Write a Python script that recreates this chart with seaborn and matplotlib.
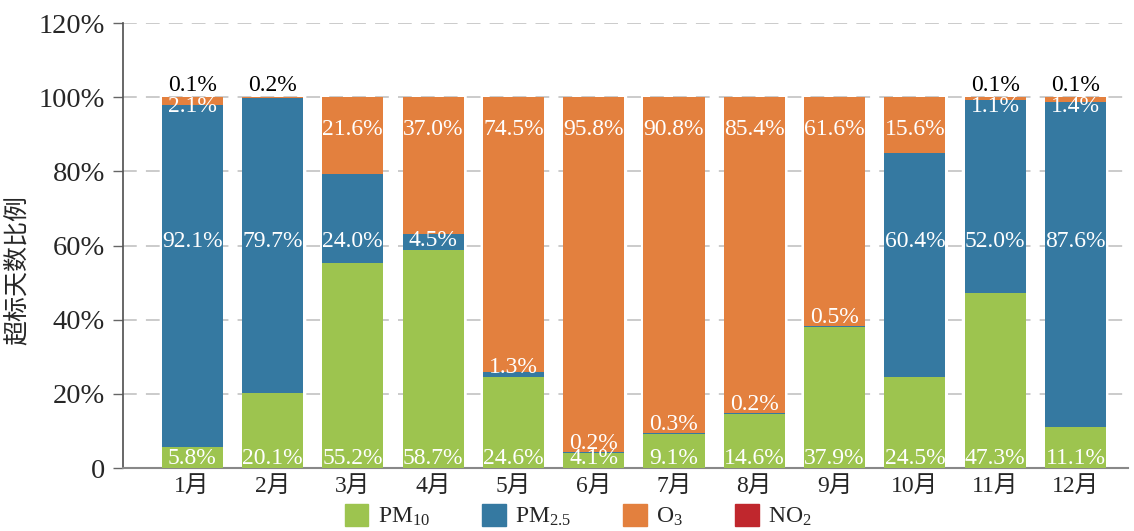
import numpy as np
import pandas as pd
import seaborn as sns
import matplotlib.pyplot as plt
from matplotlib.patches import Patch

sns.set_theme(style="white")
plt.rcParams["font.family"] = ["Liberation Serif", "Noto Sans CJK SC"]
plt.rcParams["mathtext.fontset"] = "custom"
plt.rcParams["mathtext.rm"] = "Liberation Serif"

months = ["1月", "2月", "3月", "4月", "5月", "6月", "7月", "8月", "9月", "10月", "11月", "12月"]
pm10 = [5.8, 20.1, 55.2, 58.7, 24.6, 4.1, 9.1, 14.6, 37.9, 24.5, 47.3, 11.1]
pm25 = [92.1, 79.7, 24.0, 4.5, 1.3, 0.2, 0.3, 0.2, 0.5, 60.4, 52.0, 87.6]
o3 = [2.1, 0.2, 21.6, 37.0, 74.5, 95.8, 90.8, 85.4, 61.6, 15.6, 1.1, 1.4]
no2 = [0.1, 0.0, 0.0, 0.0, 0.0, 0.0, 0.0, 0.0, 0.0, 0.0, 0.1, 0.1]

series = ["PM10", "PM2.5", "O3", "NO2"]
legend_names = [r"$\mathregular{PM_{10}}$", r"$\mathregular{PM_{2.5}}$",
                r"$\mathregular{O_{3}}$", r"$\mathregular{NO_{2}}$"]
colors = ["#9DC44F", "#3579A1", "#E3803E", "#C0272D"]

df = pd.DataFrame({"month": months, "PM10": pm10, "PM2.5": pm25, "O3": o3, "NO2": no2})

fig = plt.figure(figsize=(11.34, 5.31), dpi=100)
ax = fig.add_axes([0.1085, 0.1186, 0.886, 0.838])

# stack, capped at 100%
cum = df[series].cumsum(axis=1).clip(upper=100)
bottoms = cum.shift(1, axis=1).fillna(0)
heights = cum - bottoms

for s, c in zip(series, colors):
    sns.barplot(x=df["month"], y=heights[s], bottom=bottoms[s], color=c,
                width=0.76, saturation=1, ax=ax, linewidth=0, zorder=3)

# data labels
for i in range(len(months)):
    nonzero = [s for s in series if df.loc[i, s] > 0]
    top_s = nonzero[-1]
    for s in nonzero:
        v = df.loc[i, s]
        b, t = bottoms.loc[i, s], cum.loc[i, s]
        col = "white"
        if s == top_s and v < 0.5:
            y, col = 103.2, "black"
        elif s == "PM10":
            y = 2.6
        elif s == "PM2.5":
            y = max(min(61, t), b + 2.6)
        else:
            y = min(max(91.3, b), 97.5)
        ax.text(i, y, f"{v:.1f}%", ha="center", va="center", color=col,
                fontsize=17, zorder=5)

ax.set_ylim(0, 120)
ax.set_xlim(-0.86, 11.65)
ax.set_yticks(range(0, 121, 20))
ax.set_yticklabels(["0"] + [f"{v}%" for v in range(20, 121, 20)], fontsize=20.5)
ax.tick_params(axis="x", labelsize=17, length=0, pad=6)
ax.tick_params(axis="y", left=True, length=7, color="#666666", width=1, pad=6)
for v in range(20, 121, 20):
    ax.axhline(v, color="#BDBDBD", lw=1.1, ls=(0, (9, 6)), zorder=1)
ax.set_xlabel("")
ax.set_ylabel("超标天数比例", fontsize=18, family="Noto Sans CJK SC")
ax.yaxis.set_label_coords(-0.093, 0.445)
sns.despine(ax=ax, top=True, right=True)
ax.spines["left"].set_color("#555555")
ax.spines["bottom"].set_color("#888888")
ax.spines["bottom"].set_linewidth(1.5)

handles = [Patch(color=c) for c in colors]
fig.legend(handles, legend_names, loc="lower center", bbox_to_anchor=(0.51, -0.035),
           ncol=4, frameon=False, fontsize=17, handlelength=1.0, handleheight=1.0,
           columnspacing=2.2, handletextpad=0.4)

fig.savefig("out.png", dpi=100)
